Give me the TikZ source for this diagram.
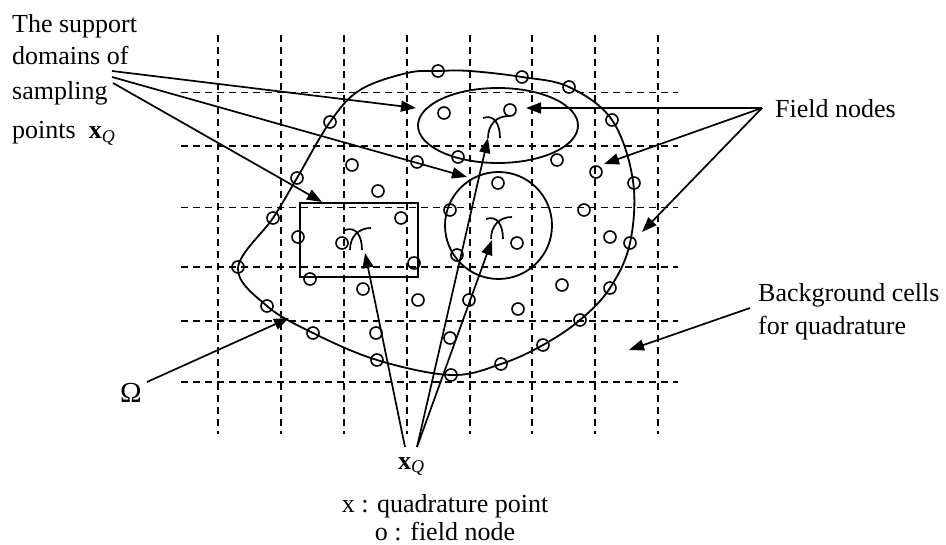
\documentclass[tikz,border=0pt]{standalone}
\usepackage{fontspec}
\setmainfont{Liberation Serif}
\usetikzlibrary{arrows.meta}
\begin{document}
\begin{tikzpicture}[x=1pt,y=-1pt,
  gridline/.style={line width=1.9pt, dash pattern=on 7pt off 5pt},
  fn/.style={line width=1.8pt},
  conn/.style={line width=1.7pt, -{Triangle[length=15pt,width=11pt]}},
  lbl/.style={font=\fontsize{26}{33}\selectfont, inner sep=0pt},
  qp/.pic={
    \draw[line width=1.7pt] (-7,12) .. controls (-7,-2) and (2,-10) .. (14,-10);
    \draw[line width=1.7pt] (-12,-8) .. controls (-1,-12) and (5,-2) .. (5,12);
  }
]
\useasboundingbox (0,0) rectangle (946,545);
% background cells
\foreach \x in {218,281,344,407,470,532,595,658}
  \draw[gridline] (\x,35) -- (\x,434);
\foreach \y in {92.5,146,207.5,267,321,382}
  \draw[gridline] (181,\y) -- (678,\y);
% problem domain
\draw[fn] plot[smooth cycle, tension=0.6] coordinates {
  (330,122) (360,90) (407,73) (438,71) (470,71) (522,77) (569,87) (612,120)
  (633,181) (630,243) (610,288) (580,320) (543,345) (501,364) (451,375)
  (377,360) (313,333) (267,306) (238,268) (273,218) (297,178)};
% support domains
\draw[fn] (498,125.5) ellipse [x radius=80pt, y radius=37.5pt];
\draw[fn] (498.5,225.5) circle (53.5pt);
\draw[fn] (300,203) rectangle (418,277);
% field nodes
\foreach \p in {(330,122),(438,71),(522,77),(569,87),(612,120),(634,183),(630,243),
  (610,288),(580,320),(543,345),(501,364),(451,375),(377,360),(313,333),(267,306),
  (238,267),(273,218),(297,178),
  (352,165),(417,162),(458,157),(557,160),(596,172),(444,113),(510,110),(498,183),
  (298,237),(310,279),(342,243),(378,191),(401,218),(414,263),(363,289),(418,300),
  (450,210),(457,255),(517,243),(469,300),(518,309),(376,333),(450,338),
  (584,210),(610,237),(562,285)}
  \draw[line width=1.6pt] \p circle (6pt);
% quadrature points
\pic at (357,238) {qp};
\pic at (495,126) {qp};
\pic at (498,227) {qp};
% labels
\node[lbl, anchor=base west] (t1) at (12,33) {The support};
\node[lbl, anchor=base west] (t2) at (12,65) {domains of};
\node[lbl, anchor=base west] (t3) at (12,100) {sampling};
\node[lbl, anchor=base west] (t4) at (12,139) {points\ \ \textbf{x}\raisebox{-4pt}{\fontsize{18}{18}\selectfont\itshape Q}};
\node[lbl, anchor=base west] (fnl) at (775,118) {Field nodes};
\node[lbl, anchor=base west] (bg1) at (758,302) {Background cells};
\node[lbl, anchor=base west] (bg2) at (758,335) {for quadrature};
\node[lbl, anchor=base east, font=\fontsize{29}{33}\selectfont] (om) at (142,403) {Ω};
\node[lbl, anchor=base west] (xq) at (398,469) {\textbf{x}\raisebox{-4pt}{\fontsize{18}{18}\selectfont\itshape Q}};
\node[lbl, anchor=base] (leg1) at (445,512) {x : quadrature point};
\node[lbl, anchor=base] (leg2) at (445,540) {o : field node};
% connector ends
\coordinate (s1) at (112,71);
\coordinate (s2) at (112,77);
\coordinate (s3) at (113,83);
\coordinate (e1) at (416,108);
\coordinate (e2) at (467,177);
\coordinate (e3) at (322,202);
\coordinate (f0) at (762,108);
\coordinate (f1) at (526,108);
\coordinate (f2) at (604,164);
\coordinate (f3) at (642,232);
\coordinate (b0) at (750,308);
\coordinate (b1) at (629,350);
\coordinate (o0) at (147,382);
\coordinate (o1) at (289,318);
\coordinate (q1) at (405,447);
\coordinate (q2) at (417,447);
\coordinate (r1) at (365,253);
\coordinate (r2) at (488,138);
\coordinate (r3) at (492,240);
% connectors
\draw[conn] (s1) -- (e1);
\draw[conn] (s2) -- (e2);
\draw[conn] (s3) -- (e3);
\draw[conn] (f0) -- (f1);
\draw[conn] (f0) -- (f2);
\draw[conn] (f0) -- (f3);
\draw[conn] (b0) -- (b1);
\draw[conn] (o0) -- (o1);
\draw[conn] (q1) -- (r1);
\draw[conn] (q2) -- (r2);
\draw[conn] (q2) -- (r3);
\end{tikzpicture}
\end{document}
